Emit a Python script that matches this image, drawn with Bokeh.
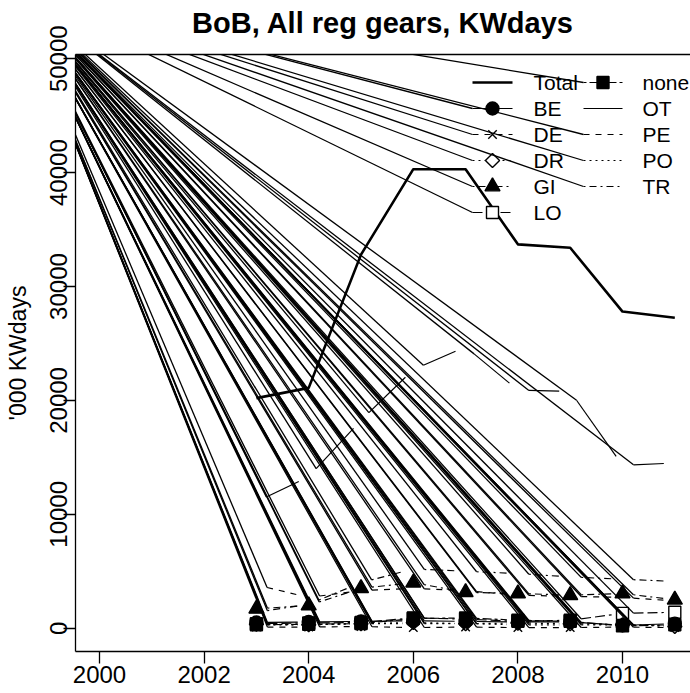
import numpy as np
from bokeh.plotting import figure
from bokeh.models import FixedTicker, LinearAxis, Range1d
from bokeh.core.properties import value
from bokeh.embed import file_html
from bokeh.resources import INLINE

# ---------------- data ----------------
years = [2003, 2004, 2005, 2006, 2007, 2008, 2009, 2010, 2011]
total = [20200, 21100, 32800, 40300, 40300, 33700, 33400, 27800, 27250]
be    = [500, 550, 600, 650, 600, 550, 550, 250, 400]
de    = [100, 100, 150, 50, 100, 50, 50, 100, 50]
dr    = [350, 300, 400, 500, 400, 450, 400, 300, 150]
gi    = [1700, 2000, 3500, 4000, 3150, 3050, 2900, 3050, 2500]
lo    = [400, 450, 500, 900, 800, 600, 700, 1300, 1400]
none_ = [300, 350, 400, 850, 900, 700, 600, 200, 300]
ot    = [11100, 13300, 18250, 22700, 24700, 20900, 20800, 14300, 14500]
pe    = [3800, 2700, 3300, 3500, 3300, 2900, 2800, 2700, 2400]
po    = [300, 300, 400, 400, 400, 300, 300, 300, 200]
tr    = [1400, 2100, 4000, 5200, 5000, 4800, 4500, 4300, 4100]

names = ["Total", "BE", "DE", "DR", "GI", "LO", "none", "OT", "PE", "PO", "TR"]
values = [total, be, de, dr, gi, lo, none_, ot, pe, po, tr]
x_ticks = [2000, 2002, 2004, 2006, 2008, 2010]
y_ticks = [0, 10000, 20000, 30000, 40000, 50000]
title_text = "BoB, All reg gears, KWdays"

# ---------------- styles ----------------
DASH = {1: "solid", 2: "6 6", 3: "2 4", 4: "2 4 7 4", 5: "10 4", 6: "3 3 9 3"}
style = {
    "Total": dict(lty=1, lw=2.6, marker=None),
    "BE": dict(lty=1, lw=1.2, marker="circle", fill=True, size=13),
    "DE": dict(lty=2, lw=1.2, marker="x", fill=False, size=12),
    "DR": dict(lty=3, lw=1.2, marker="square", fill=False, size=10, angle=np.pi / 4),
    "GI": dict(lty=4, lw=1.2, marker="triangle", fill=True, size=15),
    "LO": dict(lty=5, lw=1.2, marker="square", fill=False, size=12),
    "none": dict(lty=6, lw=1.2, marker="square", fill=True, size=12),
    "OT": dict(lty=1, lw=1.2, marker=None),
    "PE": dict(lty=2, lw=1.2, marker=None),
    "PO": dict(lty=3, lw=1.2, marker=None),
    "TR": dict(lty=4, lw=1.2, marker=None),
}

# ---------------- layout ----------------
FIG_W, FIG_H = 690, 693
FR_L, FR_T = 75, 54           # frame left/top in the picture
FR_W, FR_H = 615, 597
X0, X1 = 1999.541, 1999.541 + FR_W / 52.3
Y0, Y1 = -2046.0, 50369.0
SX = FR_W / (X1 - X0)
SY = FR_H / (Y1 - Y0)


def px2data(px, py):
    return X0 + (px - FR_L) / SX, Y1 - (py - FR_T) / SY


FONT = value("Liberation Sans")

p = figure(width=FIG_W, height=FIG_H, output_backend="svg", toolbar_location=None,
           x_range=Range1d(X0, X1), y_range=Range1d(Y0, Y1),
           min_border_left=FR_L, min_border_right=0,
           min_border_top=FR_T, min_border_bottom=FIG_H - FR_T - FR_H,
           background_fill_color="white", border_fill_color="white")
p.outline_line_color = None
p.grid.visible = False

for ax in (p.xaxis[0], p.yaxis[0]):
    ax.major_label_text_font = "Liberation Sans"
    ax.major_label_text_font_size = "24px"
    ax.major_label_text_color = "black"
    ax.axis_line_color = "black"
    ax.axis_line_width = 1.3
    ax.major_tick_line_color = "black"
    ax.major_tick_line_width = 1.3
    ax.major_tick_out = 12
    ax.major_tick_in = 0
    ax.minor_tick_line_color = None
p.xaxis.ticker = FixedTicker(ticks=x_ticks)
p.yaxis.ticker = FixedTicker(ticks=y_ticks)
p.xaxis.major_label_standoff = 2
p.yaxis.major_label_standoff = -4
p.yaxis.major_label_orientation = "vertical"
p.yaxis.axis_label = "'000 KWdays"
p.yaxis.axis_label_text_font = "Liberation Sans"
p.yaxis.axis_label_text_font_size = "23px"
p.yaxis.axis_label_text_font_style = "normal"
p.yaxis.axis_label_standoff = 17
p.yaxis.axis_label_text_color = "black"

# top box line, carrying the chart title as its label
top = LinearAxis(ticker=FixedTicker(ticks=[]), major_label_text_font_size="0px",
                 major_tick_line_color=None, minor_tick_line_color=None,
                 axis_line_color="black", axis_line_width=1.3,
                 axis_label=title_text, axis_label_text_font="Liberation Sans",
                 axis_label_text_font_style="bold", axis_label_text_font_size="29px",
                 axis_label_text_color="black", axis_label_standoff=16)
p.add_layout(top, "above")

# ---------------- rendering artefact origin (off the frame, top-left) ----------------
ORIG_X, ORIG_Y = px2data(13, -12)
GAP = 11.0  # px gap around points (type "b")

art_x0, art_y0, art_x1, art_y1 = [], [], [], []

for name, vals in zip(names, values):
    st = style[name]
    dash = DASH[st["lty"]]
    if name == "Total":
        p.line(years, vals, line_color="black", line_width=st["lw"], line_join="round")
        continue
    sx0, sy0, sx1, sy1 = [], [], [], []
    for i in range(len(years) - 1):
        ax_, ay_ = years[i] * SX, vals[i] * SY
        bx_, by_ = years[i + 1] * SX, vals[i + 1] * SY
        d = np.hypot(bx_ - ax_, by_ - ay_)
        if d <= 2 * GAP:
            continue
        ux, uy = (bx_ - ax_) / d, (by_ - ay_) / d
        s0x, s0y = years[i] + GAP * ux / SX, vals[i] + GAP * uy / SY
        s1x, s1y = years[i + 1] - GAP * ux / SX, vals[i + 1] - GAP * uy / SY
        sx0.append(s0x); sy0.append(s0y); sx1.append(s1x); sy1.append(s1y)
        art_x0.append(ORIG_X); art_y0.append(ORIG_Y); art_x1.append(s0x); art_y1.append(s0y)
    p.segment(sx0, sy0, sx1, sy1, line_color="black", line_width=st["lw"], line_dash=dash)

# artefact lines
p.segment(art_x0, art_y0, art_x1, art_y1, line_color="black", line_width=1.3)

# markers
for name, vals in zip(names, values):
    st = style[name]
    if st["marker"] is None:
        continue
    p.scatter(years, vals, marker=st["marker"], size=st["size"],
              angle=st.get("angle", 0.0),
              line_color="black", line_width=1.4,
              fill_color="black" if st["fill"] else None)

# ---------------- legend (manual, R style, no box) ----------------
col1 = ["Total", "BE", "DE", "DR", "GI", "LO"]
col2 = ["none", "OT", "PE", "PO", "TR"]
ROW0, DROW = 82, 26
cols = [(col1, 472, 512, 533), (col2, 583, 622, 642)]
leg_art = {"BE", "DE", "DR", "GI", "LO", "none", "PE", "PO", "TR"}
lx0, ly0, lx1, ly1 = [], [], [], []
for items, sa, sb, tx_ in cols:
    for r, name in enumerate(items):
        st = style[name]
        py = ROW0 + DROW * r
        xa, ya = px2data(sa, py)
        xb, _ = px2data(sb, py)
        xm, _ = px2data((sa + sb) / 2, py)
        xt, _ = px2data(tx_, py)
        p.segment([xa], [ya], [xb], [ya], line_color="black", line_width=st["lw"],
                  line_dash=DASH[st["lty"]])
        if st["marker"] is not None:
            p.scatter([xm], [ya], marker=st["marker"], size=st["size"],
                      angle=st.get("angle", 0.0), line_color="black", line_width=1.4,
                      fill_color="black" if st["fill"] else "white")
        p.text([xt], [ya], text=[name], text_font=FONT, text_font_size="21px",
               text_baseline="middle", text_align="left", text_color="black")
        if name in leg_art:
            lx0.append(ORIG_X); ly0.append(ORIG_Y); lx1.append(xa); ly1.append(ya)
p.segment(lx0, ly0, lx1, ly1, line_color="black", line_width=1.3)

open("out.html", "w").write(file_html(p, INLINE))
